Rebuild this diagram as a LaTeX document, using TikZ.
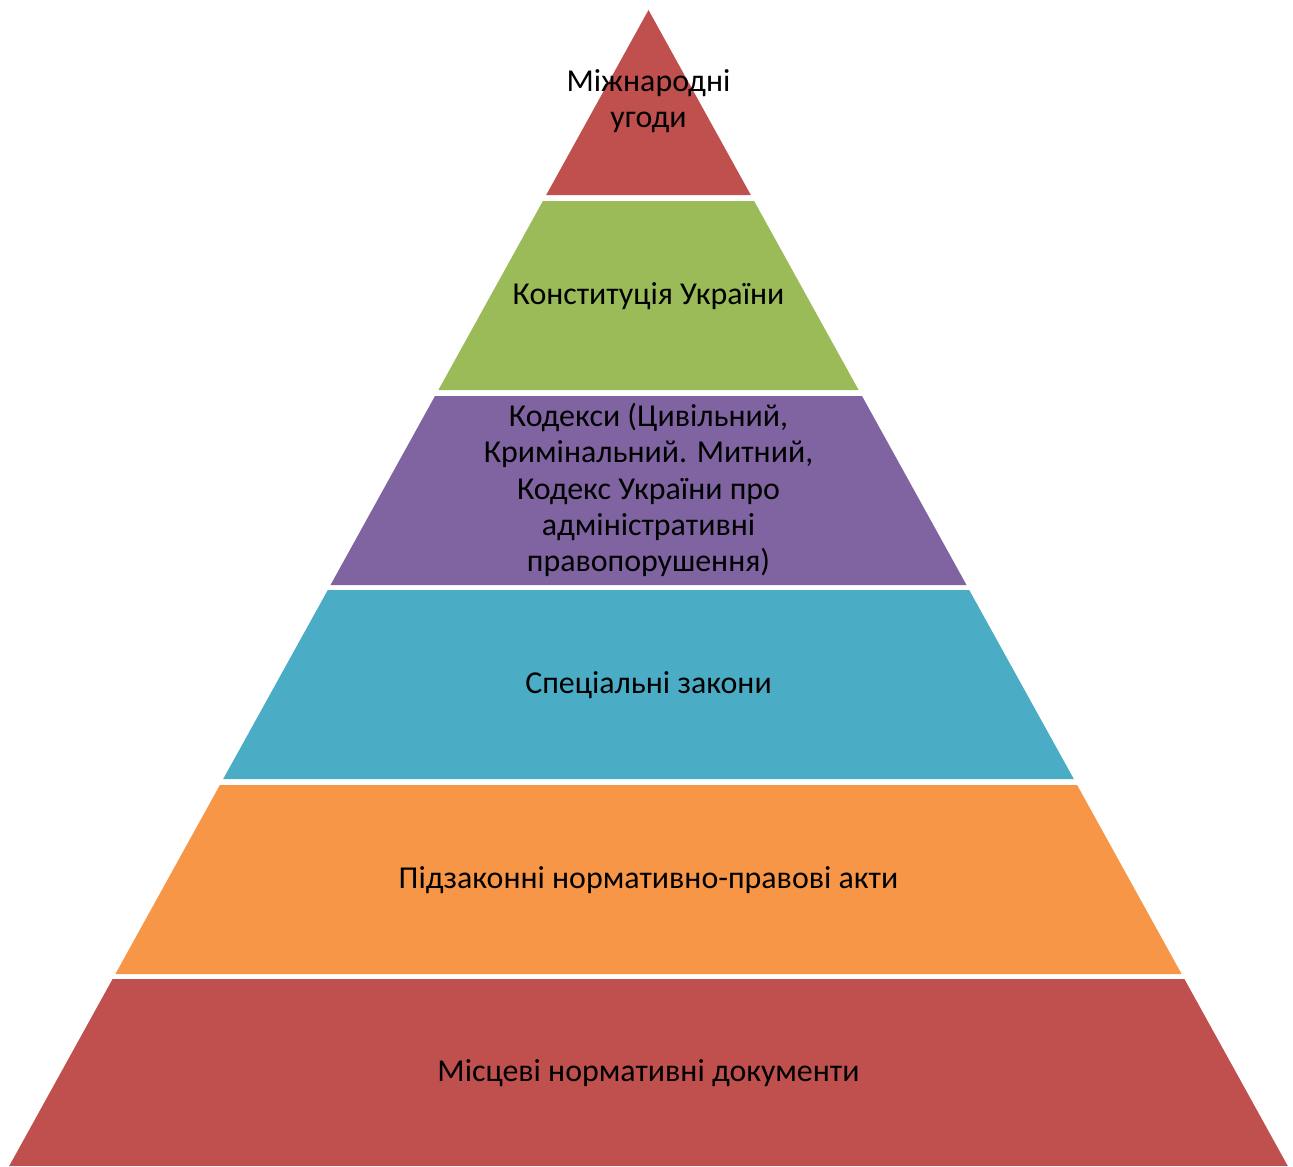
\documentclass[tikz,border=0pt]{standalone}
\usepackage{fontspec}
\setmainfont{Carlito}
\definecolor{lred}{HTML}{C0504D}
\definecolor{lgreen}{HTML}{9BBB59}
\definecolor{lpurple}{HTML}{8064A2}
\definecolor{lblue}{HTML}{4BACC6}
\definecolor{lorange}{HTML}{F79646}
\tikzset{
  lbl/.style={align=center, text=black, font=\fontsize{31.9}{36.3}\selectfont, inner sep=0pt},
}
\begin{document}
\begin{tikzpicture}[x=1pt,y=-1pt]
\useasboundingbox (0,0) rectangle (1293,1167);
\fill[white] (0,0) rectangle (1293,1167);
% layers
\fill[lred]    (648.5,10) -- (750.8,195) -- (546.2,195) -- cycle;
\fill[lgreen]  (542.9,201) -- (754.1,201) -- (858.6,390) -- (438.4,390) -- cycle;
\fill[lpurple] (435.0,396) -- (862.0,396) -- (966.5,585) -- (330.5,585) -- cycle;
\fill[lblue]   (327.8,590) -- (969.2,590) -- (1073.8,779) -- (223.2,779) -- cycle;
\fill[lorange] (219.9,785) -- (1077.1,785) -- (1181.6,974) -- (115.4,974) -- cycle;
\fill[lred]    (112.6,979) -- (1184.4,979) -- (1287.8,1166) -- (9.2,1166) -- cycle;
% labels
\node[lbl] (t1) at (648.5,101) {Міжнародні\\угоди};
\node[lbl] (t2) at (648.5,296) {Конституція України};
\node[lbl] (t3) at (648.5,490) {Кодекси (Цивільний,\\Кримінальний. Митний,\\Кодекс України про\\адміністративні\\правопорушення)};
\node[lbl] (t4) at (648.5,685) {Спеціальні закони};
\node[lbl] (t5) at (648.5,880) {Підзаконні нормативно-правові акти};
\node[lbl] (t6) at (648.5,1073) {Місцеві нормативні документи};
\end{tikzpicture}
\end{document}
